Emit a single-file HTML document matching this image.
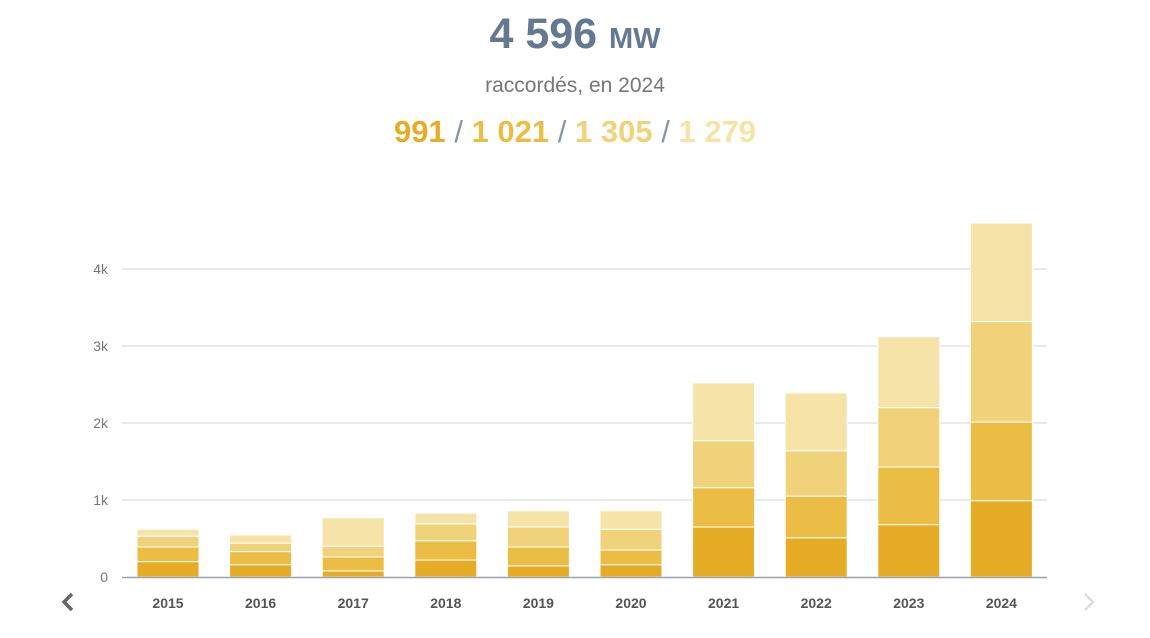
<!DOCTYPE html>
<html><head><meta charset="utf-8">
<style>
body{margin:0;width:1150px;height:638px;background:#fff;font-family:"Liberation Sans",sans-serif;overflow:hidden}
.t{position:absolute;left:0;width:1150px;text-align:center}
</style></head><body>
<div class="t" style="top:10px;font-size:43px;font-weight:bold;color:#64798f">4 596 <span style="font-size:29px">MW</span></div>
<div class="t" style="top:74px;font-size:21px;color:#777">raccordés, en 2024</div>
<div class="t" style="top:114px;font-size:31px;font-weight:bold">
<span style="color:#e6ac25">991</span> <span style="color:#8a96a3;font-weight:normal">/</span> <span style="color:#ebbd44">1 021</span> <span style="color:#8a96a3;font-weight:normal">/</span> <span style="color:#f0d27a">1 305</span> <span style="color:#8a96a3;font-weight:normal">/</span> <span style="color:#f5e3a7">1 279</span></div>
<svg id="c" width="1150" height="638" style="position:absolute;left:0;top:0"></svg>
<script>
const years=["2015","2016","2017","2018","2019","2020","2021","2022","2023","2024"];
const s1=[200,160,80,220,145,160,650,510,680,991];
const s2=[190,170,180,250,245,190,510,540,750,1021];
const s3=[140,110,140,220,260,270,610,590,770,1305];
const s4=[90,105,370,140,210,240,750,750,920,1279];
const ticks=[0,1000,2000,3000,4000];
const tickLabels=["0","1k","2k","3k","4k"];
const colors=["#e6ac25","#ebbd44","#f0d27a","#f5e3a7"];
const svg=document.getElementById('c');const NS="http://www.w3.org/2000/svg";
const y=v=>577-v*0.077;const x=i=>168+i*92.6;
function mk(t,a){const e=document.createElementNS(NS,t);for(const k in a)e.setAttribute(k,a[k]);svg.appendChild(e);return e;}
ticks.forEach((t,i)=>{
 if(t>0){const l=mk('line',{x1:122,x2:1047,y1:y(t),y2:y(t),stroke:'#d6d6d6','stroke-width':1});
 }
 const tx=mk('text',{x:108,y:y(t)+5,'text-anchor':'end','font-size':14,fill:'#777','font-family':'Liberation Sans'});
 tx.textContent=tickLabels[i];
 
});
const series=[s1,s2,s3,s4];
years.forEach((yr,i)=>{
 let base=0;
 series.forEach((s,k)=>{
  const r=mk('rect',{x:x(i)-31,width:62,y:y(base+s[i]),height:y(base)-y(base+s[i]),fill:colors[k],stroke:'#fff','stroke-width':1});
  
  base+=s[i];
 });
 const tx=mk('text',{x:x(i),y:608,'text-anchor':'middle','font-size':14,'font-weight':'bold',fill:'#555','font-family':'Liberation Sans'});
 tx.textContent=yr;
 
});
const ax=mk('line',{x1:122,x2:1047,y1:577.5,y2:577.5,stroke:'#9aa3ad','stroke-width':1.5});

const p=mk('path',{d:'M72 594 L64 602 L72 610',fill:'none',stroke:'#666','stroke-width':3.5});

const n=mk('path',{d:'M1085 594 L1093 602 L1085 610',fill:'none',stroke:'#ddd','stroke-width':2.5});

</script>
</body></html>
